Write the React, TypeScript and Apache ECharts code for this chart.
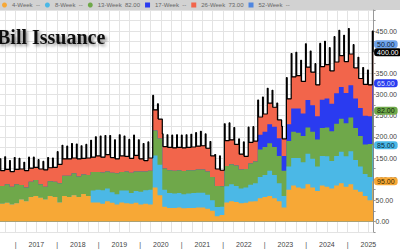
import { useEffect, useRef } from 'react';
import * as echarts from 'echarts';

const SERIES_NAMES = ['4-Week', '8-Week', '13-Week', '17-Week', '26-Week', '52-Week'];
const LEGEND_VALUES = ['--', '--', '82.00', '--', '73.00', '--'];
const AREA_COLORS = ['#F7A836', '#4BB8E6', '#6FA84A', '#2A3BF0', '#F2654B', '#111111'];
const LEGEND_COLORS = ['#F7A836', '#4BB8E6', '#6FA84A', '#2A3BF0', '#F2654B', '#4F86E0'];
const LEGEND_ICONS = ['circle', 'circle', 'circle', 'rect', 'rect', 'rect'];
const BADGE_TEXT = ['#3a2a00', '#06283a', '#0d2206', '#dfe3ff', '#ffffff', '#0b1b33'];
const BADGE_BG = ['#F7A836', '#4BB8E6', '#6FA84A', '#2A3BF0', '#F2654B', '#6FA3EA'];

// six-week periods starting mid-August 2016
const START_YEAR = 2016.625;
const PERIOD_DAYS = 42;
const SPIKE_DAYS = 7;

const W4 = [42, 44, 40, 43,
  52, 48, 58, 60, 56, 52, 60, 58,
  45, 60, 58, 62, 58, 65, 60,
  45, 45, 42, 48, 44, 40, 45, 43, 42, 44, 40, 42, 40,
  80, 62,
  35, 32, 32, 33, 31, 32, 32, 33,
  33, 30, 25,
  12, 15,
  45, 48, 46, 43, 44, 47, 48,
  55, 58,
  60, 55, 48, 33,
  75, 85, 80, 78, 88, 80, 72, 85, 82, 78,
  85, 90, 82, 88, 75, 70, 60, 50,
  95];
const W8 = [0, 0, 0, 0,
  0, 0, 0, 0, 0, 0, 0, 0,
  0, 0, 0, 0, 0, 0, 0,
  28, 30, 32, 30, 25, 24, 28, 30, 25, 28, 30, 32, 35,
  76, 72,
  40, 35, 34, 34, 33, 34, 35, 35,
  35, 33, 25,
  22, 20,
  38, 40, 38, 35, 36, 40, 42,
  50, 52,
  60, 55, 42, 27,
  55, 65, 70, 62, 72, 68, 58, 70, 72, 65,
  70, 75, 72, 78, 70, 60, 52, 55,
  85];
const W13 = [42, 44, 42, 45,
  34, 32, 36, 38, 32, 30, 35, 36,
  45, 48, 50, 52, 48, 46, 50,
  44, 42, 42, 40, 46, 50, 44, 45, 48, 46, 48, 44, 45,
  59, 62,
  50, 54, 54, 54, 55, 55, 54, 55,
  55, 55, 55,
  50, 48,
  48, 47, 48, 45, 44, 50, 52,
  65, 66,
  65, 66, 65, 60,
  60, 62, 60, 62, 62, 64, 64, 66, 68, 70,
  76, 78, 78, 80, 76, 72, 70, 78,
  82];
const W17 = [0, 0, 0, 0,
  0, 0, 0, 0, 0, 0, 0, 0,
  0, 0, 0, 0, 0, 0, 0,
  0, 0, 0, 0, 0, 0, 0, 0, 0, 0, 0, 0, 0,
  0, 0,
  0, 0, 0, 0, 0, 0, 0, 0,
  0, 0, 0,
  0, 0,
  0, 0, 0, 0, 0, 0, 0,
  35, 36,
  45, 48, 42, 35,
  40, 55, 57, 53, 65, 63, 55, 67, 69, 65,
  72, 75, 72, 76, 70, 66, 68, 66,
  65];
const W26 = [36, 35, 36, 35,
  38, 40, 32, 30, 36, 40, 32, 34,
  45, 40, 40, 36, 42, 38, 40,
  35, 38, 36, 40, 36, 34, 38, 36, 34, 38, 30, 26, 30,
  49, 46,
  52, 54, 54, 54, 55, 54, 55, 55,
  56, 55, 50,
  40, 38,
  60, 58, 50, 36, 30, 50, 48,
  42, 42,
  50, 46, 43, 40,
  60, 75, 78, 76, 78, 78, 74, 78, 80, 78,
  74, 74, 74, 74, 72, 70, 74, 74,
  73];
const W52 = [28, 30, 26, 28,
  25, 20, 26, 24, 22, 20, 24, 22,
  30, 32, 30, 34, 35, 30, 32,
  40, 45, 50, 45, 52, 45, 50, 48, 45, 48, 45, 40, 38,
  34, 36,
  30, 30, 30, 30, 30, 30, 30, 32,
  34, 34, 34,
  34, 34,
  40, 40, 40, 36, 34, 36, 34,
  40, 40,
  35, 40, 40, 30,
  50, 55, 55, 50, 55, 50, 50, 55, 55, 55,
  60, 60, 62, 60, 55, 50, 40, 35,
  50];

const YEARS = [2017, 2018, 2019, 2020, 2021, 2022, 2023, 2024, 2025];
const X_MIN = 2016.625;
const X_MAX = 2025.625;

const LAYERS = [W4, W8, W13, W17, W26];

function buildOption() {
  const day = 1 / 365.25;
  // cumulative tops for each layer (bills stacked from 4-week upward)
  const cumData: number[][][] = [[], [], [], [], [], []];
  const totalData: number[][] = [];
  W4.forEach((_, i) => {
    const x0 = START_YEAR + i * PERIOD_DAYS * day;
    const x1 = x0 + SPIKE_DAYS * day;
    let base = 0;
    LAYERS.forEach((arr, k) => {
      base += arr[i];
      cumData[k].push([x0, base], [x1, base]);
    });
    cumData[5].push([x0, base + W52[i]], [x1, base]);
    totalData.push([x0, base + W52[i]], [x1, base]);
  });

  const quarters: number[] = [];
  for (let q = X_MIN + 0.125; q < X_MAX; q += 0.25) quarters.push(Math.round(q * 100) / 100);
  const labelPos: number[] = [2016.5];
  YEARS.forEach((y) => { labelPos.push(y, y + 0.5); });

  const ownLast = [W4, W8, W13, W17, W26, W52].map((a) => a[a.length - 1]);

  const badge = (k: number, extra: any = {}) => ({
    show: true,
    distance: 1,
    fontSize: 7,
    fontFamily: 'Liberation Sans',
    padding: [1, 3, 0, 3],
    borderRadius: 3,
    backgroundColor: BADGE_BG[k],
    color: BADGE_TEXT[k],
    formatter: () => ownLast[k].toFixed(2),
    ...extra,
  });

  // draw top layer first so each lower layer covers the one above it
  const order = [5, 4, 3, 2, 1, 0];
  const series: any[] = order.map((k) => ({
    name: SERIES_NAMES[k],
    type: 'line',
    step: 'end',
    symbol: 'none',
    data: cumData[k],
    lineStyle: { width: 0 },
    itemStyle: { color: AREA_COLORS[k] },
    areaStyle: { color: AREA_COLORS[k], opacity: 1 },
    z: 2,
    endLabel: k === 4 ? { show: false } : k === 5 ? badge(k, { offset: [0, -8] }) : badge(k),
  }));
  series.push({
    name: 'Total',
    type: 'line',
    step: 'end',
    symbol: 'none',
    data: totalData,
    lineStyle: { color: '#000', width: 1.2 },
    itemStyle: { color: '#000' },
    z: 3,
    endLabel: {
      show: true,
      distance: 1,
      fontSize: 7,
      fontFamily: 'Liberation Sans',
      padding: [1, 3, 0, 3],
      borderRadius: 3,
      backgroundColor: '#000',
      color: '#fff',
      formatter: (p: any) => Number(p.value[1]).toFixed(2),
    },
  });

  return {
    animation: false,
    backgroundColor: '#ffffff',
    grid: { left: 0, right: 16, top: 10, bottom: 18 },
    legend: {
      top: 0,
      left: 2,
      padding: [2, 0, 0, 0],
      itemWidth: 5,
      itemHeight: 5,
      itemGap: 5,
      data: SERIES_NAMES.map((n, i) => ({ name: n, icon: LEGEND_ICONS[i], itemStyle: { color: LEGEND_COLORS[i] } })),
      formatter: (n: string) => n + '  ' + LEGEND_VALUES[SERIES_NAMES.indexOf(n)],
      textStyle: { fontSize: 6, color: '#666', fontFamily: 'Liberation Sans' },
      selectedMode: false,
    },
    xAxis: {
      type: 'value',
      min: X_MIN,
      max: X_MAX,
      axisLine: { show: false },
      axisTick: { show: false, customValues: quarters },
      splitLine: { show: true, lineStyle: { color: '#e3e3e3', width: 1 } },
      axisLabel: {
        customValues: labelPos,
        formatter: (v: number) => (Number.isInteger(v) ? '|' : String(Math.floor(v))),
        fontSize: 7,
        color: '#444',
        fontFamily: 'Liberation Sans',
        margin: 9,
      },
    },
    yAxis: {
      type: 'value',
      position: 'right',
      min: -25,
      max: 500,
      interval: 25,
      axisLine: { show: true, lineStyle: { color: '#999' } },
      axisTick: { show: true, length: 2, lineStyle: { color: '#999' } },
      splitLine: { show: true, lineStyle: { color: '#e3e3e3', width: 1 } },
      axisLabel: {
        formatter: (v: number) => (v >= 0 && v < 500 && v % 50 === 0 ? v.toFixed(2) : ''),
        fontSize: 7,
        color: '#444',
        margin: 2,
        fontFamily: 'Liberation Sans',
      },
    },
    graphic: [
      { type: 'rect', left: 0, top: 0, z: -1, shape: { width: 400, height: 10 }, style: { fill: '#d2d2d2' } },
      {
        type: 'text',
        x: -3,
        y: 27,
        z: 100,
        style: {
          text: 'Bill Issuance',
          font: 'bold 20px "Liberation Serif"',
          fill: '#111',
          textShadowColor: 'rgba(0,0,0,0.45)',
          textShadowBlur: 3,
          textShadowOffsetX: 2,
          textShadowOffsetY: 2,
        },
      },
    ],
    series,
  };
}

export default function App() {
  const ref = useRef<HTMLDivElement>(null);
  useEffect(() => {
    if (!ref.current) return;
    const chart = echarts.init(ref.current, null, { renderer: 'svg' });
    chart.setOption(buildOption() as any);
    return () => chart.dispose();
  }, []);
  return <div ref={ref} style={{ width: 400, height: 250, position: 'fixed', left: 0, top: 0 }} />;
}
